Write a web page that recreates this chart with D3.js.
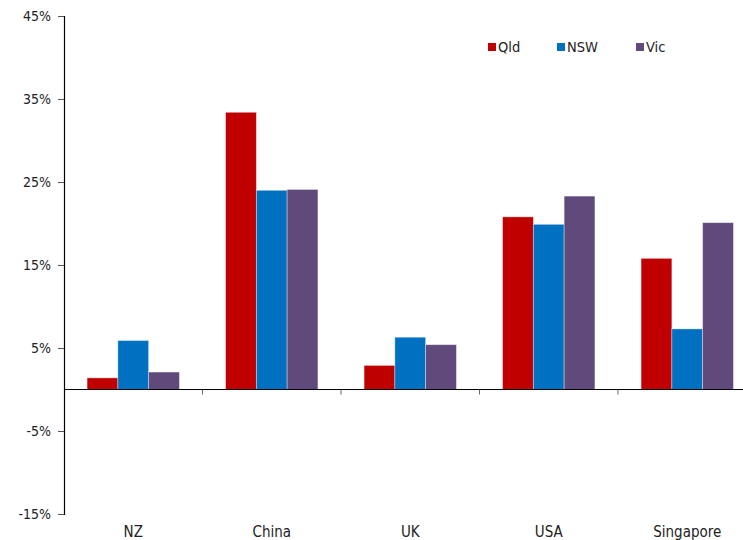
<!DOCTYPE html>
<html>
<head>
<meta charset="utf-8">
<script src="https://cdn.jsdelivr.net/npm/d3@7"></script>
<style>
  html, body { margin: 0; padding: 0; background: #fff; }
  svg { display: block; font-family: "DejaVu Sans", "Open Sans", sans-serif; }
</style>
</head>
<body>
<svg id="chart" width="743" height="540"></svg>
<script>
// Share of visitors by origin market, per state
const categories = ["NZ", "China", "UK", "USA", "Singapore"];
const seriesNames = ["Qld", "NSW", "Vic"];
const qld = [1.4, 33.4, 2.9, 20.8, 15.8];
const nsw = [5.9, 24.0, 6.3, 19.9, 7.3];
const vic = [2.1, 24.1, 5.4, 23.3, 20.1];
const yTicks = [-15, -5, 5, 15, 25, 35, 45];
const colors = ["#C00000", "#0070C0", "#604A7B"];

const seriesValues = [qld, nsw, vic];

const svg = d3.select("#chart");
const plotLeft = 64, plotTop = 16, plotBottom = 514;
const stepW = 138.5;
const labelFont = "'DejaVu Sans Condensed', 'DejaVu Sans', sans-serif";

const y = d3.scaleLinear().domain([-15, 45]).range([plotBottom, plotTop]);
const x = d3.scaleBand().domain(categories).range([plotLeft, plotLeft + stepW * categories.length]).padding(0);
const inner = d3.scaleBand().domain(seriesNames)
  .range([0, x.bandwidth()]).paddingOuter(0.75).paddingInner(0);

// bars
seriesNames.forEach((s, si) => {
  svg.append("g").selectAll("rect")
    .data(categories.map((c, i) => ({ c, v: seriesValues[si][i] })))
    .join("rect")
    .attr("x", d => x(d.c) + inner(s))
    .attr("width", inner.bandwidth())
    .attr("y", d => y(Math.max(0, d.v)))
    .attr("height", d => Math.abs(y(d.v) - y(0)))
    .attr("fill", colors[si])
    .attr("stroke", "rgba(255,255,255,0.45)")
    .attr("stroke-width", 0.8);
});

// y axis
const yAxis = d3.axisLeft(y).tickValues(yTicks).tickFormat(d => d + "%").tickSize(6).tickPadding(7);
const gy = svg.append("g").attr("transform", `translate(${plotLeft},0)`).call(yAxis);
gy.select(".domain").attr("stroke", "#000").attr("stroke-width", 1.2);
gy.selectAll(".tick line").attr("stroke", "#555");
gy.selectAll(".tick text").attr("fill", "#222").style("font-size", "14px")
  .style("font-family", labelFont);

// zero baseline with category separator ticks
svg.append("line")
  .attr("x1", plotLeft).attr("x2", 743)
  .attr("y1", y(0)).attr("y2", y(0))
  .attr("stroke", "#000").attr("stroke-width", 1.2);
svg.append("g").selectAll("line")
  .data(categories.slice(1))
  .join("line")
  .attr("x1", d => x(d)).attr("x2", d => x(d))
  .attr("y1", y(0)).attr("y2", y(0) + 5)
  .attr("stroke", "#666");

// category labels along the bottom
svg.append("g").selectAll("text")
  .data(categories)
  .join("text")
  .attr("x", d => x(d) + x.bandwidth() / 2)
  .attr("y", 537)
  .attr("text-anchor", "middle")
  .attr("fill", "#222")
  .style("font-size", "15px")
  .style("font-family", labelFont)
  .text(d => d);

// legend
const legendX = [488, 557, 636];
const lg = svg.append("g");
seriesNames.forEach((s, i) => {
  lg.append("rect").attr("x", legendX[i]).attr("y", 43).attr("width", 8).attr("height", 8).attr("fill", colors[i]);
  lg.append("text").attr("x", legendX[i] + 10).attr("y", 51.5)
    .attr("fill", "#222")
    .style("font-size", "14.5px")
    .style("font-family", labelFont)
    .text(s);
});
</script>
</body>
</html>
